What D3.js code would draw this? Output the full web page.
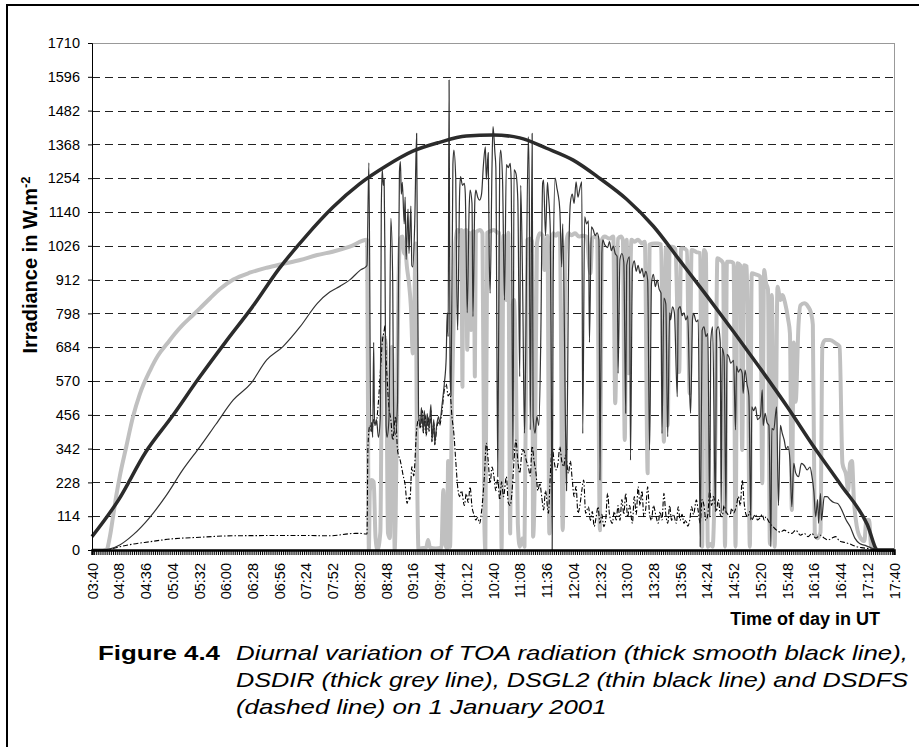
<!DOCTYPE html>
<html><head><meta charset="utf-8">
<script src="https://cdn.jsdelivr.net/npm/d3@7/dist/d3.min.js"></script>
<style>
body{margin:0;background:#fff}
svg{display:block}
text{font-family:"Liberation Sans",Arial,Helvetica,sans-serif}
</style>
</head><body>
<svg id="chart" width="919" height="747"></svg>
<script>
// ---------- data (time = minutes since midnight, value = W.m-2) ----------
const yTickValues = [0,114,228,342,456,570,684,798,912,1026,1140,1254,1368,1482,1596,1710];
const timeLabels = ["03:40","04:08","04:36","05:04","05:32","06:00","06:28","06:56","07:24","07:52","08:20","08:48","09:16","09:44","10:12","10:40","11:08","11:36","12:04","12:32","13:00","13:28","13:56","14:24","14:52","15:20","15:48","16:16","16:44","17:12","17:40"];

// TOA radiation (thick smooth black line)
const toa = [[220,45],[248,170],[276,329],[304,451],[332,580],[360,702],[388,820],[416,949],[444,1058],[472,1155],[500,1234],[528,1295],[556,1345],[584,1375],[612,1396],[640,1400],[668,1390],[696,1355],[724,1315],[752,1253],[780,1183],[808,1092],[836,975],[864,857],[892,736],[920,612],[948,484],[976,348],[1004,221],[1032,86],[1043,0],[1060,0]];

// DSDIR (thick grey line)
const dsdir = [[220,0],[234,0],[235,0],[239,50],[242,112],[245,175],[249,247],[256,350],[263,450],[270,525],[281,607],[289,655],[299,697],[307,730],[315,759],[325,790],[333,815],[344,850],[354,880],[368,912],[386,936],[403,952],[420,965],[438,978],[456,995],[472,1006],[490,1023],[508,1046],
[510,0],[511,200],[513,236],[515,230],[517,40],[519,0],[522,60],[524,708],[526,720],[528,681],[530,57],[532,40],[534,685],[536,300],[537,0],[538,100],[541,900],[543,1050],[545,1057],[547,1000],[548,1012],[550,950],[552,900],[554,820],[556,663],[557,700],[559,1034],[560,500],[562,0],[564,5],[570,8],[572,34],[574,8],[580,5],[586,8],[588,202],[590,20],[592,5],[593,300],[595,10],[597,506],[599,800],[601,1046],[603,1079],[605,1075],[607,1079],[608,551],[609,1070],[612,1079],[613,675],[615,1070],[617,742],[618,1068],[620,1075],[621,585],[622,1070],[626,1079],[629,1068],[631,79],[632,0],[634,1070],[637,1075],[641,1079],[645,1070],[647,1068],[649,5],[651,1060],[654,843],[656,1070],[658,56],[660,800],[662,843],[664,600],[666,90],[668,11],[671,40],[673,11],[676,1046],[679,1050],[681,1040],[682,45],[684,300],[686,1034],[689,1068],[692,1060],[694,944],[697,1060],[699,56],[701,1000],[703,1068],[706,1060],[708,1068],[710,1065],[713,67],[716,1000],[719,1068],[722,1062],[726,1068],[730,1057],[734,1060],[738,1057],[742,933],[744,1050],[747,1057],[749,1050],[752,67],[754,1046],[757,1057],[762,1050],[766,1057],[768,495],[771,1050],[774,1057],[776,1046],[778,371],[780,1046],[782,596],[785,1046],[788,1040],[792,1046],[796,1034],[799,1040],[802,259],[804,1030],[809,1034],[813,1034],[816,1030],[819,365],[821,1020],[823,420],[825,1023],[828,1023],[831,1015],[835,600],[837,1017],[840,1017],[843,1010],[846,528],[848,1012],[853,1005],[857,1001],[859,11],[861,1012],[863,1000],[865,11],[868,20],[870,11],[873,400],[875,984],[878,979],[881,967],[883,11],[885,972],[889,972],[892,967],[894,11],[896,967],[899,960],[901,337],[903,960],[906,956],[909,11],[911,933],[915,930],[920,922],[922,225],[924,944],[926,900],[928,880],[930,20],[932,860],[935,11],[938,888],[941,843],[943,860],[946,832],[949,780],[951,731],[953,135],[955,700],[957,500],[960,760],[962,825],[966,832],[970,821],[973,800],[975,760],[977,56],[980,40],[983,60],[985,690],[988,708],[993,708],[999,697],[1003,686],[1006,292],[1010,250],[1012,200],[1014,292],[1016,300],[1018,169],[1021,80],[1025,40],[1029,30],[1031,101],[1034,101],[1036,10],[1039,0],[1060,0]];

// DSGL2 (thin black line)
const dsgl2 = [[220,0],[234,2],[239,4],[249,17],[263,51],[281,112],[298,185],[315,270],[333,348],[350,425],[368,506],[386,560],[403,641],[420,686],[438,753],[456,832],[469,870],[480,890],[490,911],[501,944],[507,956],[508,960],
[510,1306],[512,400],[513,430],[514,380],[515,700],[516,420],[518,440],[520,380],[522,450],[523,1150],[524,1282],[525,1230],[526,1250],[527,900],[528,420],[529,380],[531,440],[533,1119],[535,900],[536,420],[538,390],[540,500],[542,1276],[543,1310],[544,1200],[545,1240],[547,1100],[548,1190],[549,980],[551,1150],[552,1000],[554,1160],[555,960],[556,955],[558,1100],[560,1405],[562,460],
[564,420],[565,480],[567,400],[568,470],[570,390],[571,460],[573,410],[575,490],[576,370],[578,440],[579,360],[581,420],[583,450],[584,430],[587,500],[589,560],[591,650],[592,800],[593,720],[594,1585],[595,600],[596,520],[598,1300],[599,1349],[601,1250],[602,900],[603,742],[605,1200],[606,1259],[608,1230],[610,1237],[611,1200],[613,800],[615,1150],[616,1214],[618,1170],[619,787],[621,1180],[622,1214],[624,1190],[626,1180],[628,1200],[630,1300],[632,1360],[633,1250],[635,1340],[636,1000],[637,866],[639,1300],[640,1428],[642,1340],[643,1290],[645,247],[647,1300],[648,1349],[650,1250],[652,843],[654,1300],[656,1290],[658,1304],[659,1250],[661,303],[662,1282],[664,1270],[666,1180],[668,585],[669,1230],[671,900],[673,394],[674,600],[677,1394],[678,1200],[679,405],[681,1405],[682,450],[684,394],[686,450],[688,420],[690,700],[692,1237],[693,1248],[695,1060],[697,1240],[698,1200],[700,1080],[701,600],[702,0],[703,900],[705,1254],[707,1220],[708,1203],[710,1147],[712,955],[713,1100],[716,400],[717,200],[719,900],[721,1169],[723,1200],[725,1169],[727,1242],[729,1190],[731,1220],[733,1242],[734,393],[736,1124],[738,1100],[740,1110],[741,700],[743,1090],[745,1080],[747,1060],[749,1070],[751,1046],[752,236],[754,1000],[755,1046],[757,1030],[760,1020],[762,1040],[764,1010],[766,1025],[768,1000],[770,990],[771,596],[773,980],[775,1000],[777,970],[779,461],[780,960],[783,989],[784,303],[786,950],[788,975],[790,940],[792,960],[794,933],[796,950],[798,920],[800,940],[802,910],[804,337],[806,900],[808,930],[810,888],[812,910],[814,880],[816,866],[817,393],[819,850],[821,830],[823,382],[825,800],[826,776],[828,820],[830,800],[833,517],[834,810],[836,821],[838,790],[840,800],[842,776],[844,790],[846,528],[847,461],[849,780],[850,798],[853,770],[855,776],[857,11],[859,740],[861,753],[863,720],[865,730],[867,112],[868,700],[870,753],[873,130],[874,740],[876,753],[878,700],[879,124],[880,680],[882,652],[884,124],[885,660],[887,652],[889,630],[892,640],[894,405],[895,620],[897,600],[899,610],[901,596],[902,528],[904,607],[906,560],[908,520],[910,101],[911,483],[913,470],[915,483],[917,440],[920,450],[922,540],[923,420],[925,461],[927,430],[929,420],[931,11],[932,410],[934,405],[937,483],[939,150],[941,420],[943,393],[945,371],[947,340],[949,350],[951,303],[953,146],[955,292],[957,260],[960,247],[963,292],[966,285],[969,270],[972,280],[974,250],[976,200],[978,112],[980,170],[981,90],[983,191],[984,100],[987,180],[990,180],[993,170],[997,160],[1001,157],[1006,130],[1010,100],[1014,79],[1019,40],[1024,22],[1031,14],[1037,6],[1045,0],[1060,0]];

// DSDFS (dashed line)
const dsdfs = [[220,0],[234,1],[239,3],[249,11],[263,20],[281,28],[299,36],[333,43],[368,48],[438,49],[469,48],[496,56],[501,56],[507,54],[508,54],
[509,348],[511,420],[513,400],[515,440],[517,420],[520,500],[522,600],[524,700],[526,740],[527,759],[528,650],[529,585],[531,480],[533,440],[535,371],[538,450],[540,337],[543,300],[546,250],[548,220],[550,157],[552,180],[553,170],[555,281],[557,250],[560,405],[562,440],
[564,410],[566,470],[567,395],[569,455],[570,385],[572,450],[573,400],[575,470],[576,365],[578,430],[579,355],[581,410],[583,435],[584,420],[587,480],[589,540],[591,560],[593,520],[595,528],[597,450],[599,393],[601,300],[603,213],[605,180],[607,200],[610,150],[612,190],[614,160],[616,213],[618,146],[620,120],[622,101],[624,110],[626,90],[628,130],[631,250],[633,360],[635,300],[637,225],[639,280],[641,247],[643,200],[645,240],[647,169],[649,230],[651,180],[654,247],[656,160],[658,150],[660,200],[662,300],[664,371],[666,300],[668,259],[670,320],[672,337],[675,300],[677,280],[679,250],[681,350],[683,300],[685,260],[687,200],[689,225],[691,180],[693,135],[695,200],[698,124],[700,250],[702,348],[704,300],[706,270],[708,290],[710,348],[712,300],[714,281],[716,320],[719,259],[721,300],[723,236],[725,180],[727,214],[729,124],[731,150],[733,200],[735,236],[737,124],[740,146],[742,100],[744,130],[746,79],[748,110],[750,146],[752,90],[754,120],[756,79],[758,100],[760,191],[762,120],[765,90],[767,130],[769,101],[771,150],[773,100],[775,170],[777,120],[779,191],[781,110],[783,150],[786,90],[788,180],[790,120],[792,213],[794,150],[796,200],[798,112],[800,140],[802,213],[804,120],[806,100],[808,150],[811,110],[813,90],[815,130],[817,101],[819,191],[821,120],[823,90],[825,150],[827,100],[829,120],[832,90],[834,146],[836,100],[838,120],[840,90],[842,101],[844,80],[846,100],[848,146],[850,120],[853,169],[855,130],[857,90],[859,170],[861,150],[863,100],[865,120],[867,202],[869,150],[871,180],[874,130],[876,170],[878,120],[880,112],[882,150],[884,130],[886,120],[888,112],[890,140],[892,125],[895,150],[897,180],[899,150],[901,236],[903,160],[905,120],[907,112],[909,130],[911,101],[913,112],[915,120],[917,101],[920,110],[922,120],[924,101],[926,112],[928,101],[930,90],[933,80],[937,67],[941,60],[945,67],[949,60],[953,56],[957,67],[962,50],[966,56],[970,45],[974,56],[978,40],[983,50],[987,40],[991,34],[995,40],[999,45],[1003,30],[1009,25],[1014,20],[1020,12],[1026,8],[1035,4],[1043,0],[1060,0]];

const captionBold = "Figure 4.4";
const captionLines = [
  "Diurnal variation of TOA radiation (thick smooth black line),",
  "DSDIR (thick grey line), DSGL2 (thin black line) and DSDFS",
  "(dashed line) on 1 January 2001"
];

// ---------- drawing ----------
const svg = d3.select("#chart");
const L = 92, R = 894, T = 43, B = 550;
const toMin = s => { const [h,m] = s.split(":").map(Number); return h*60+m; };
const x = d3.scaleLinear().domain([toMin(timeLabels[0]), toMin(timeLabels[timeLabels.length-1])]).range([L, R]);
const y = d3.scaleLinear().domain([0, 1710]).range([B, T]);

// outer frame
svg.append("rect").attr("x",7).attr("y",5).attr("width",1000).attr("height",1000)
  .attr("fill","none").attr("stroke","#000").attr("stroke-width",2);

// plot area border
svg.append("rect").attr("x",L).attr("y",T).attr("width",R-L).attr("height",B-T)
  .attr("fill","none").attr("stroke","#999").attr("stroke-width",1).attr("shape-rendering","crispEdges");

// dashed gridlines
svg.append("g").selectAll("line").data(yTickValues.filter(v => v>0 && v<1710)).join("line")
  .attr("x1",L).attr("x2",R).attr("y1",d=>Math.round(y(d))+0.5).attr("y2",d=>Math.round(y(d))+0.5)
  .attr("stroke","#222").attr("stroke-width",1).attr("stroke-dasharray","8,5");

// series
const line = d3.line().x(d=>x(d[0])).y(d=>y(d[1])).curve(d3.curveMonotoneX);
svg.append("path").datum(dsdir).attr("d",line).attr("fill","none")
  .attr("stroke","#c0c0c0").attr("stroke-width",4).attr("stroke-linejoin","round");
svg.append("path").datum(dsdfs).attr("d",line).attr("fill","none")
  .attr("stroke","#000").attr("stroke-width",1.1).attr("stroke-dasharray","5,2,1.5,2");
svg.append("path").datum(dsgl2).attr("d",line).attr("fill","none")
  .attr("stroke","#333").attr("stroke-width",1.2).attr("stroke-linejoin","round");
svg.append("path").datum(toa).attr("d",line)
  .attr("fill","none").attr("stroke","#2b2b2b").attr("stroke-width",3.5);

// y axis
const yAxis = svg.append("g").attr("transform",`translate(${L},0)`)
  .call(d3.axisLeft(y).tickValues(yTickValues).tickSize(4).tickPadding(8).tickFormat(d3.format("d")));
yAxis.select(".domain").attr("stroke","#000");
yAxis.selectAll(".tick line").attr("stroke","#000");
yAxis.selectAll("text").attr("font-size","14.5px").attr("fill","#000")
  .style("font-family","'Liberation Sans',Arial,sans-serif");

// x axis: dense minor ticks every 2 minutes
const minorTicks = d3.range(x.domain()[0], x.domain()[1]+1, 2);
const xAxis = svg.append("g").attr("transform",`translate(0,${B})`)
  .call(d3.axisBottom(x).tickValues(minorTicks).tickSize(5).tickFormat(""));
xAxis.select(".domain").attr("stroke","#000").attr("stroke-width",2.5);
xAxis.selectAll(".tick line").attr("stroke","#000");

// x tick labels (rotated)
const labelAxis = svg.append("g").attr("transform",`translate(0,${B})`)
  .call(d3.axisBottom(x).tickValues(timeLabels.map(toMin)).tickSize(0)
    .tickFormat((d,i)=>timeLabels[i]));
labelAxis.select(".domain").remove();
labelAxis.selectAll("text")
  .attr("font-size","14.5px").attr("fill","#000")
  .style("font-family","'Liberation Sans',Arial,sans-serif")
  .attr("text-anchor","end").attr("dy","0.35em")
  .attr("transform","translate(0,13) rotate(-90)").attr("y",0).attr("x",0);

// y axis title
const yt = svg.append("text").attr("transform","translate(37,265) rotate(-90)")
  .attr("text-anchor","middle").attr("font-weight","bold").attr("font-size","20px").attr("fill","#000");
yt.append("tspan").text("Irradiance in W.m");
yt.append("tspan").attr("dy","-0.55em").attr("font-size","13px").text("-2");

// x axis title
svg.append("text").attr("x",880).attr("y",625).attr("text-anchor","end")
  .attr("font-weight","bold").attr("font-size","18px").attr("fill","#000").text("Time of day in UT");

// caption
const capX = 236, capY0 = 660, capDY = 27, capW = 672;
const fb = svg.append("text").attr("x",capX-16).attr("y",capY0).attr("text-anchor","end")
  .attr("font-weight","bold").attr("font-size","21px").attr("fill","#000").text(captionBold);
const capTexts = captionLines.map((s,i)=> svg.append("text").attr("x",capX).attr("y",capY0+i*capDY)
  .attr("font-style","italic").attr("font-size","21px").attr("fill","#000").text(s));
const natural0 = capTexts[0].node().getComputedTextLength();
const k = capW / natural0;
capTexts.forEach((t,i) => { const w = t.node().getComputedTextLength();
  t.attr("textLength", i < 2 ? capW : w*k).attr("lengthAdjust","spacingAndGlyphs"); });
const fw = fb.node().getComputedTextLength();
fb.attr("textLength", fw*k).attr("lengthAdjust","spacingAndGlyphs");
</script>
</body></html>
